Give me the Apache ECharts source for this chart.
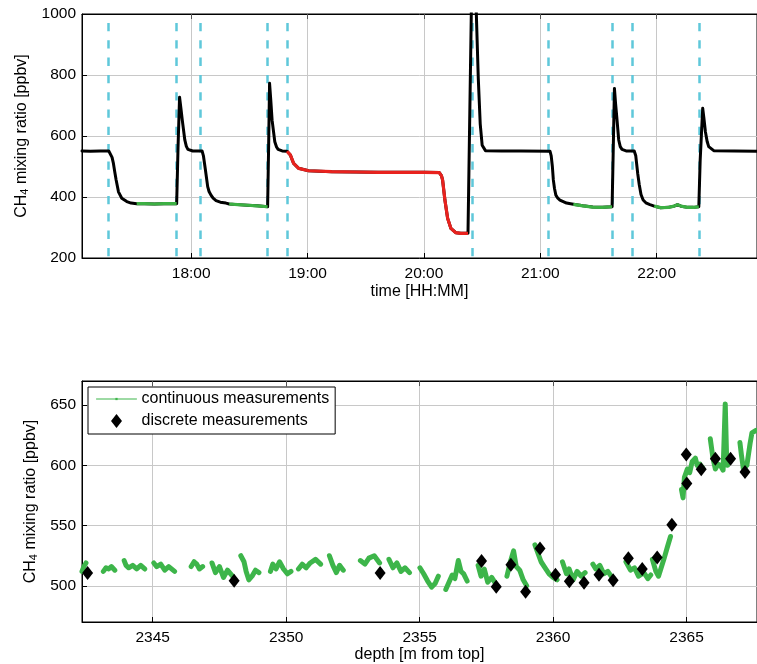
<!DOCTYPE html>
<html><head><meta charset="utf-8">
<script src="https://cdn.jsdelivr.net/npm/echarts@6/dist/echarts.min.js"></script>
<style>html,body{margin:0;padding:0;background:#fff}#c{width:757px;height:664px}</style>
</head><body><div id="c"></div>
<script>
// ---------- top panel: CH4 trace vs time (minutes after midnight) ----------
const traceTime = [1023.7,1028,1033,1037.5,1038.2,1039.2,1039.9,1040.6,1041.3,1042.5,1044.2,1046.8,1049,1051.9,1056,1061,1066,1072.5,
  1073.2,1074,1074.7,1075.4,1076.7,1077.5,1078.3,1080.8,1085.6,1086.3,1087.3,1088.5,1089.2,1090.2,1091.3,1092.8,1095,1097.9,1099.6,1104,1109,1114,1119.4,
  1119.9,1120.4,1121,1121.7,1123.1,1124,1124.8,1126.9,1129.4,1131.1,1132.8,1135.4,1140.5,1152.4,1165,1176.3,1190,1200,1207.9,
  1209,1209.6,1210.8,1212.2,1213.9,1216.4,1219,1222.7,1224.4,1225.5,1227,1228,1229,1230,1231.7,1240,1250,1265,
  1265.6,1266.2,1266.7,1267.3,1268,1269,1270.1,1273.5,1277,1282,1287,1292,1297,
  1297.6,1298.2,1298.8,1299.4,1300.4,1301.2,1302.1,1304.2,1308.4,1309.2,1310.2,1311,1311.9,1313,1314.4,1316.5,1318.7,
  1322,1326,1329,1330.7,1332.5,1336,1339,1341.7,1342.4,1343.7,1344.3,1345.1,1346,1346.8,1349.4,1360,1371.7];
const traceCH4 = [551,550,551,551,549,530,510,482,456,417,396,385,380,378,378,377,378,378,
  560,727,690,652,587,566,556,551,551,535,490,434,418,406,396,388,383,380,377,375,373,371,368,
  560,773,720,652,581,564,556,551,550,538,510,494,486,483,482,481,481,481,480,
  470,456,390,330,297,283,281,281,1000,1300,1000,790,640,570,552,551,551,550,
  535,500,456,428,406,396,390,380,376,371,367,366,368,
  560,756,705,663,587,565,556,551,551,535,477,440,408,390,381,375,370,
  365,366,370,375,370,366,366,368,520,691,660,614,582,565,552,551,550];
const greenSpans = [[1051.9,1072.5],[1099.6,1119.4],[1277,1297],[1318.7,1341.7]];
const redSpans = [[1129.4,1222.7]];
const valveTimes = [1037.3,1072.5,1084.9,1119.4,1129.3,1225.1,1264.1,1297.0,1307.6,1342.0];
const timeTicks = [1080,1140,1200,1260,1320];

// ---------- bottom panel: CH4 vs depth ----------
const continuousFragments = [
  [[2342.35,512],[2342.42,516],[2342.5,519]],
  [[2343.15,512],[2343.25,515],[2343.35,514],[2343.45,516],[2343.58,513]],
  [[2343.93,521],[2344.0,517],[2344.1,515],[2344.25,517],[2344.4,514],[2344.55,517],[2344.7,514]],
  [[2345.04,519],[2345.15,516],[2345.3,518],[2345.45,513],[2345.6,516],[2345.82,512]],
  [[2346.44,516],[2346.55,520],[2346.65,518],[2346.75,514],[2346.87,516]],
  [[2347.22,519],[2347.35,511],[2347.5,516],[2347.65,507],[2347.8,513],[2347.99,508]],
  [[2348.3,525],[2348.42,520],[2348.5,512],[2348.6,505],[2348.72,508],[2348.85,513],[2348.98,511]],
  [[2349.41,512],[2349.5,518],[2349.62,514],[2349.75,520],[2349.9,514],[2350.05,510],[2350.18,512]],
  [[2350.46,514],[2350.6,518],[2350.75,515],[2350.9,519],[2351.1,522],[2351.29,518]],
  [[2351.62,525],[2351.75,517],[2351.88,511],[2352.0,517],[2352.14,513]],
  [[2352.78,521],[2352.95,518],[2353.1,523],[2353.3,525],[2353.5,519]],
  [[2353.85,522],[2354.0,515],[2354.15,519],[2354.3,512],[2354.45,515],[2354.62,511]],
  [[2355.01,515],[2355.15,510],[2355.3,504],[2355.45,499],[2355.58,502],[2355.7,508]],
  [[2355.98,497],[2356.1,503],[2356.22,509],[2356.32,506],[2356.45,521],[2356.55,512],[2356.65,510],[2356.78,504]],
  [[2357.19,517],[2357.3,508],[2357.42,514],[2357.55,503],[2357.7,507],[2357.9,500]],
  [[2358.27,508],[2358.4,520],[2358.52,529],[2358.62,516],[2358.75,513],[2358.88,505],[2359.01,500]],
  [[2359.32,534],[2359.45,526],[2359.55,520],[2359.7,515],[2359.85,510],[2360.0,507],[2360.15,505]],
  [[2360.35,520],[2360.5,510],[2360.6,514],[2360.75,505],[2360.9,512],[2361.05,508],[2361.2,511]],
  [[2361.49,518],[2361.6,514],[2361.75,517],[2361.9,510],[2362.05,512],[2362.24,506]],
  [[2362.73,520],[2362.9,513],[2363.05,515],[2363.2,508],[2363.4,511],[2363.55,506],[2363.66,509]],
  [[2363.72,522],[2363.85,512],[2363.95,508],[2364.05,515],[2364.15,522],[2364.28,532],[2364.4,541]],
  [[2364.81,580],[2364.87,573],[2364.92,590],[2365.03,597],[2365.12,594],[2365.21,603],[2365.33,606],[2365.4,600],[2365.5,601],[2365.6,598]],
  [[2365.89,622],[2365.94,614],[2365.99,606],[2366.08,597],[2366.18,601],[2366.27,600],[2366.37,596],[2366.45,651],[2366.5,608],[2366.54,600]],
  [[2367.0,619],[2367.06,608],[2367.13,597],[2367.26,600],[2367.38,618],[2367.45,627],[2367.6,629]]
];
const discreteDepth = [2342.56,2348.05,2353.52,2357.32,2357.87,2358.42,2358.97,2359.51,2360.09,2360.61,2361.16,2361.72,2362.25,2362.82,2363.34,2363.90,2364.45,2364.99,2365.01,2365.55,2366.08,2366.65,2367.19];
const discreteCH4 = [510.7,504.3,510.7,520.7,499.2,517.5,495.1,530.9,509.3,503.8,502.5,509.3,504.7,523.0,513.9,523.5,550.8,609.0,585.0,596.7,605.5,605.5,594.5];
const depthTicks = [2345,2350,2355,2360,2365];
const ch4TicksBottom = [500,550,600,650];

// ---------- build ----------
const FONT = '"Liberation Sans", Arial, Helvetica, sans-serif';
const GRID_COLOR = '#c8c8c8';
const fmtHM = m => { const h = Math.floor(m / 60); const mm = Math.round(m - h * 60); return h + ':' + String(mm).padStart(2, '0'); };
const plain = v => String(v);

const blackData = traceTime.map((t, i) => [t, traceCH4[i]]);
function spanData(spans) {
  const out = [];
  spans.forEach((s, k) => {
    if (k) out.push([NaN, NaN]);
    traceTime.forEach((t, i) => { if (t >= s[0] - 1e-9 && t <= s[1] + 1e-9) out.push([t, traceCH4[i]]); });
  });
  return out;
}
const contData = [];
continuousFragments.forEach((f, k) => { if (k) contData.push([NaN, NaN]); f.forEach(p => contData.push(p)); });
const discData = discreteDepth.map((d, i) => [d, discreteCH4[i]]);

const yName = {
  fontFamily: FONT, color: '#000',
  rich: {
    n: { fontSize: 16, fontFamily: FONT, color: '#000', lineHeight: 18 },
    s: { fontSize: 11, fontFamily: FONT, color: '#000', lineHeight: 10, verticalAlign: 'bottom' }
  }
};
const axisCommon = {
  axisLine: { show: true, lineStyle: { color: '#000', width: 1 } },
  splitLine: { show: true, lineStyle: { color: GRID_COLOR, width: 1 } },
  nameTextStyle: { fontSize: 16, fontFamily: FONT, color: '#000' }
};
const labelStyle = { fontSize: 15.5, fontFamily: FONT, color: '#000' };
const DOT_SYMBOL = 'path://M0,0 L0,0 M10,10 L10,10 M4,4 L6,4 L6,6 L4,6 Z';
const DIAMOND_ICON = 'path://M5.5,0 L11,7 L5.5,14 L0,7 Z';

function topBorderAxis(gridIndex, min, max, ticks) {
  return {
    type: 'value', gridIndex: gridIndex, position: 'top', min: min, max: max,
    axisLine: { show: true, lineStyle: { color: '#000', width: 1 } },
    axisTick: { show: true, inside: true, length: 5, customValues: ticks, lineStyle: { color: '#555' } },
    axisLabel: { show: false }, splitLine: { show: false }
  };
}

const option = {
  animation: false,
  backgroundColor: '#fff',
  grid: [
    { left: 82, top: 14, right: -5, bottom: 406, show: true, borderColor: '#000', borderWidth: 1, backgroundColor: 'rgba(0,0,0,0)' },
    { left: 82, top: 381, right: -5, bottom: 39, show: true, borderColor: '#000', borderWidth: 1, backgroundColor: 'rgba(0,0,0,0)' }
  ],
  xAxis: [
    Object.assign({}, axisCommon, {
      type: 'value', gridIndex: 0, position: 'bottom', min: 1023.7, max: 1371.7,
      axisTick: { show: true, inside: true, length: 5, customValues: timeTicks, lineStyle: { color: '#000' } },
      axisLabel: Object.assign({ customValues: timeTicks, margin: 8, formatter: v => fmtHM(v) }, labelStyle),
      name: 'time [HH:MM]', nameLocation: 'middle', nameGap: 26
    }),
    Object.assign({}, axisCommon, {
      type: 'value', gridIndex: 1, position: 'bottom', min: 2342.35, max: 2367.64,
      axisTick: { show: true, inside: true, length: 5, customValues: depthTicks, lineStyle: { color: '#000' } },
      axisLabel: Object.assign({ customValues: depthTicks, margin: 8, formatter: plain }, labelStyle),
      name: 'depth [m from top]', nameLocation: 'middle', nameGap: 25
    }),
    topBorderAxis(0, 1023.7, 1371.7, timeTicks),
    topBorderAxis(1, 2342.35, 2367.64, depthTicks)
  ],
  yAxis: [
    Object.assign({}, axisCommon, {
      type: 'value', gridIndex: 0, min: 200, max: 1000, interval: 200,
      axisTick: { show: true, inside: true, length: 5, lineStyle: { color: '#000' } },
      axisLabel: Object.assign({ margin: 6, formatter: plain }, labelStyle),
      name: '{n|CH}{s|4}{n| mixing ratio [ppbv]}', nameLocation: 'middle', nameGap: 50, nameRotate: 90,
      nameTextStyle: yName
    }),
    Object.assign({}, axisCommon, {
      type: 'value', gridIndex: 1, min: 470, max: 670,
      axisTick: { show: true, inside: true, length: 5, customValues: ch4TicksBottom, lineStyle: { color: '#000' } },
      axisLabel: Object.assign({ customValues: ch4TicksBottom, margin: 6, formatter: plain }, labelStyle),
      name: '{n|CH}{s|4}{n| mixing ratio [ppbv]}', nameLocation: 'middle', nameGap: 41, nameRotate: 90,
      nameTextStyle: yName
    })
  ],
  legend: {
    data: [
      { name: 'continuous measurements' },
      { name: 'discrete measurements', icon: DIAMOND_ICON }
    ],
    orient: 'vertical', left: 88, top: 387,
    padding: [4, 6, 5, 8], itemGap: 6, itemWidth: 40, itemHeight: 14,
    backgroundColor: '#fff', borderColor: '#000', borderWidth: 1, borderRadius: 0,
    textStyle: { fontSize: 16, fontFamily: FONT, color: '#000' },
    lineStyle: { width: 1 },
    symbolKeepAspect: true,
    selectedMode: false
  },
  series: [
    {
      type: 'line', xAxisIndex: 0, yAxisIndex: 0, data: [], z: 1, silent: true,
      markLine: {
        z: 1, silent: true, symbol: ['none', 'none'], label: { show: false },
        lineStyle: { color: '#5fc8da', width: 2.5, type: [8.3, 9], dashOffset: 8.3 },
        data: valveTimes.map(t => [{ coord: [t, 1000] }, { coord: [t, 200] }])
      }
    },
    {
      type: 'line', xAxisIndex: 0, yAxisIndex: 0, data: blackData, z: 6, symbol: 'none', silent: true,
      lineStyle: { color: '#000', width: 3, join: 'round', cap: 'round' }
    },
    {
      type: 'line', xAxisIndex: 0, yAxisIndex: 0, data: spanData(greenSpans), z: 7, symbol: 'none', silent: true,
      lineStyle: { color: '#3cb043', width: 3.2, join: 'round' }
    },
    {
      type: 'line', xAxisIndex: 0, yAxisIndex: 0, data: spanData(redSpans), z: 7, symbol: 'none', silent: true,
      lineStyle: { color: '#e8221e', width: 3.2, join: 'round' }
    },
    {
      name: 'continuous measurements', type: 'line', xAxisIndex: 1, yAxisIndex: 1, data: contData, z: 3,
      symbol: DOT_SYMBOL, showSymbol: false, silent: true, connectNulls: false,
      itemStyle: { color: '#3db54a', borderWidth: 0 },
      lineStyle: { color: '#3db54a', width: 5, join: 'round', cap: 'round' }
    },
    {
      name: 'discrete measurements', type: 'scatter', xAxisIndex: 1, yAxisIndex: 1, data: discData, z: 5,
      symbol: 'diamond', symbolSize: [11, 14], silent: true,
      itemStyle: { color: '#000', opacity: 1 }
    }
  ]
};
echarts.init(document.getElementById('c'), null, { renderer: 'canvas' }).setOption(option);
</script></body></html>
